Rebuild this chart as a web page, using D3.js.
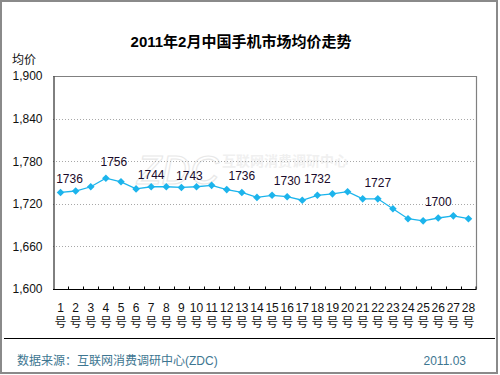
<!DOCTYPE html>
<html>
<head>
<meta charset="utf-8">
<script src="https://cdn.jsdelivr.net/npm/d3@7/dist/d3.min.js"></script>
<style>
  html, body { margin: 0; padding: 0; background: #fff; }
  svg { display: block; }
  text { font-family: Arial, "Liberation Sans", "Noto Sans CJK SC", sans-serif; }
</style>
</head>
<body>
<svg id="chart" width="500" height="375"></svg>
<script>
// ---- data ----
const title = "2011年2月中国手机市场均价走势";
const yAxisTitle = "均价";
const days = d3.range(1, 29).map(d => String(d));
const dayUnit = "号";
const prices = [1736, 1738, 1744, 1756, 1751, 1741, 1744, 1744, 1743, 1744,
                1746, 1740, 1736, 1729, 1732, 1730, 1725, 1732, 1734, 1737,
                1727, 1727, 1713, 1699, 1696, 1700, 1703, 1699];
const yTicks = [1600, 1660, 1720, 1780, 1840, 1900];
const labelDays = ["1", "4", "7", "9", "13", "16", "18", "22", "26"];
const labelValues = [1736, 1756, 1744, 1743, 1736, 1730, 1732, 1727, 1700];
const sourceText = "数据来源：互联网消费调研中心(ZDC)";
const dateText = "2011.03";

// ---- layout ----
const svg = d3.select("#chart");
const plot = { left: 53, right: 476, top: 76, bottom: 289 };
const lineColor = "#1cb4ec";

const x = d3.scaleBand().domain(days).range([plot.left, plot.right]).padding(0);
const y = d3.scaleLinear().domain([1600, 1900]).range([plot.bottom, plot.top]);
const cx = d => x(d) + x.bandwidth() / 2;

// outer frame
svg.append("rect").attr("x", 1).attr("y", 1).attr("width", 496).attr("height", 372)
  .attr("fill", "#fff").attr("stroke", "#8a8a8a").attr("stroke-width", 2);

// watermark (faint)
const wm = svg.append("g");
wm.append("text").attr("x", 137).attr("y", 184).attr("font-size", 40)
  .attr("font-style", "italic").attr("fill", "none").attr("stroke", "#e8e8e8").attr("stroke-width", 1.1)
  .text("ZDC");
wm.append("text").attr("x", 222).attr("y", 166).attr("font-size", 14)
  .attr("font-weight", "bold").attr("fill", "#f0f0f0").text("互联网消费调研中心");

// title
svg.append("text").attr("x", 241).attr("y", 47).attr("text-anchor", "middle")
  .attr("font-size", 15).attr("font-weight", "bold").attr("fill", "#000")
  .text(title);

// y axis title
svg.append("text").attr("x", 12).attr("y", 64).attr("font-size", 12).attr("fill", "#111")
  .text(yAxisTitle);

// gridlines
svg.append("g").selectAll("line").data(yTicks.filter(t => t > 1600 && t < 1900)).join("line")
  .attr("x1", plot.left).attr("x2", plot.right)
  .attr("y1", d => Math.round(y(d)) + 0.5).attr("y2", d => Math.round(y(d)) + 0.5)
  .attr("stroke", "#a8a8a8").attr("stroke-dasharray", "1,2");

// plot border (top & right grey)
svg.append("path")
  .attr("d", `M${plot.left},${plot.top + 0.5}H${plot.right + 0.5}V${plot.bottom}`)
  .attr("fill", "none").attr("stroke", "#808080").attr("stroke-width", 1.2);

// y axis
const yAxis = d3.axisLeft(y).tickValues(yTicks).tickSize(0).tickPadding(11)
  .tickFormat(d3.format(","));
const gy = svg.append("g").attr("transform", `translate(${plot.left + 0.5},0)`).call(yAxis);
gy.select(".domain").attr("stroke", "#000");
gy.selectAll("text").attr("font-size", 12).attr("fill", "#111")
  .attr("font-family", "Arial, 'Liberation Sans', sans-serif");

// x axis
const gx = svg.append("g").attr("transform", `translate(0,${plot.bottom + 0.5})`);
gx.append("line").attr("x1", plot.left).attr("x2", plot.right + 0.5)
  .attr("stroke", "#000");
gx.selectAll("line.tick").data(days.slice(1).concat(["__end"])).join("line")
  .attr("class", "tick")
  .attr("x1", d => d === "__end" ? plot.right : Math.round(x(d)) + 0.5)
  .attr("x2", d => d === "__end" ? plot.right : Math.round(x(d)) + 0.5)
  .attr("y1", 0).attr("y2", -3).attr("stroke", "#000");
const xl = gx.selectAll("g.lbl").data(days).join("g").attr("class", "lbl")
  .attr("transform", d => `translate(${cx(d)},0)`);
xl.append("text").attr("y", 22).attr("text-anchor", "middle").attr("font-size", 12)
  .attr("fill", "#111").text(d => d);
xl.append("text").attr("y", 37).attr("text-anchor", "middle").attr("font-size", 12)
  .attr("fill", "#111").text(dayUnit);

// line
const line = d3.line().x((d, i) => cx(days[i])).y(d => y(d));
svg.append("path").datum(prices).attr("d", line)
  .attr("fill", "none").attr("stroke", lineColor).attr("stroke-width", 1.3);

// markers (diamonds)
svg.append("g").selectAll("path").data(prices).join("path")
  .attr("transform", (d, i) => `translate(${cx(days[i])},${y(d)})`)
  .attr("d", "M0,-3.8L3.8,0L0,3.8L-3.8,0Z")
  .attr("fill", lineColor);

// data labels (offsets mimic the reference's manual placement)
const labelShift = { "1": [9, -9], "4": [8, -12], "7": [0, -7.5], "9": [8, -7.5] };
svg.append("g").selectAll("text").data(labelDays).join("text")
  .attr("x", d => cx(d) + (labelShift[d] ? labelShift[d][0] : 0))
  .attr("y", d => y(prices[days.indexOf(d)]) + (labelShift[d] ? labelShift[d][1] : -12))
  .attr("text-anchor", "middle").attr("font-size", 12).attr("fill", "#1a0a2a")
  .text((d, i) => labelValues[i]);

// footer
svg.append("line").attr("x1", 4).attr("x2", 495).attr("y1", 338.5).attr("y2", 338.5)
  .attr("stroke", "#000").attr("stroke-width", 1);
svg.append("text").attr("x", 17).attr("y", 365).attr("font-size", 12).attr("fill", "#3d7691")
  .text(sourceText);
svg.append("text").attr("x", 466).attr("y", 365).attr("text-anchor", "end")
  .attr("font-size", 12).attr("fill", "#3d7691").text(dateText);
</script>
</body>
</html>
